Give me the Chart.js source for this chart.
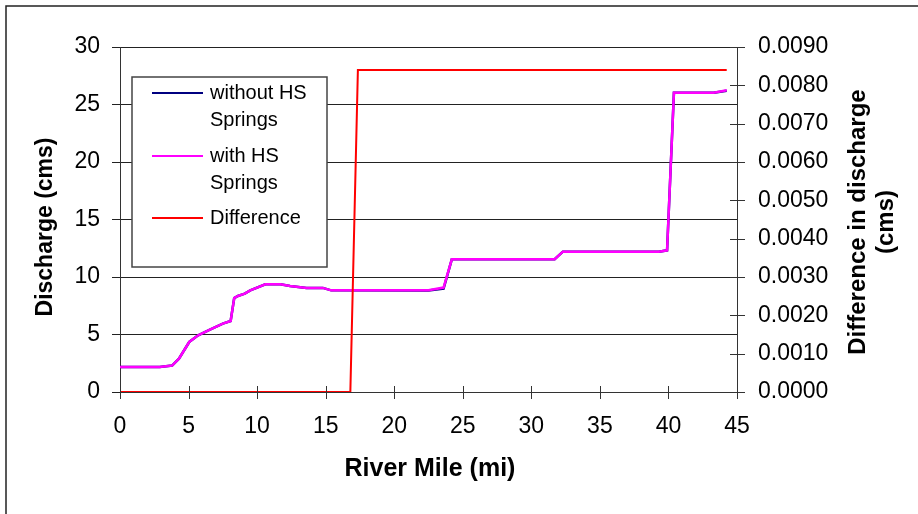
<!DOCTYPE html>
<html>
<head>
<meta charset="utf-8">
<script src="https://cdn.jsdelivr.net/npm/chart.js@4.4.0/dist/chart.umd.min.js"></script>
<style>
  body { margin: 0; background: #fff; }
  #wrap { width: 918px; height: 514px; }
</style>
</head>
<body>
<div id="wrap"><canvas id="dischargeChart" width="918" height="514"></canvas></div>
<script>
// river mile vs discharge
const riverMile = [0, 2.9, 3.8, 4.3, 5.05, 5.7, 6.56, 7.5, 8.07, 8.33, 8.6, 9.1, 9.5, 10.6, 11.7, 12.4, 13.6, 14.8, 15.4, 22.5, 23.6, 24.2, 31.7, 32.3, 39.3, 39.9, 40.4, 43.3, 44.25];
const withoutSprings = [2.17, 2.17, 2.3, 2.9, 4.35, 4.93, 5.42, 5.95, 6.17, 8.17, 8.35, 8.55, 8.84, 9.37, 9.37, 9.22, 9.05, 9.05, 8.84, 8.82, 9.0, 11.54, 11.54, 12.2, 12.2, 12.32, 26.03, 26.03, 26.2];
const withSprings = [2.17, 2.17, 2.3, 2.9, 4.35, 4.93, 5.42, 5.95, 6.17, 8.17, 8.35, 8.55, 8.84, 9.37, 9.37, 9.22, 9.05, 9.05, 8.84, 8.84, 9.08, 11.54, 11.54, 12.2, 12.2, 12.32, 26.03, 26.03, 26.23];

// difference series on right axis
const diffMile = [0, 16.8, 17.35, 44.25];
const diffValues = [0, 0, 0.0084, 0.0084];

const xTicks = [0, 5, 10, 15, 20, 25, 30, 35, 40, 45];
const legendNames = [['without HS', 'Springs'], ['with HS', 'Springs'], ['Difference']];

const FONT = "'Liberation Sans', Arial, sans-serif";

function toPoints(xs, ys) {
    return xs.map((x, i) => ({ x: x, y: ys[i] }));
}

// border, titles, crossing tick marks, boxed legend
const decorPlugin = {
    id: 'decor',
    afterDraw(chart) {
        const ctx = chart.ctx;
        const x = chart.scales.x, y2 = chart.scales.y2;
        const area = chart.chartArea;
        ctx.save();

        // outer frame
        ctx.strokeStyle = '#222';
        ctx.lineWidth = 1.5;
        ctx.beginPath();
        ctx.moveTo(6, 514);
        ctx.lineTo(6, 6);
        ctx.lineTo(918, 6);
        ctx.stroke();

        // tick marks crossing the x axis and right axis
        ctx.strokeStyle = '#333';
        ctx.lineWidth = 1;
        ctx.beginPath();
        xTicks.forEach(v => {
            const px = Math.round(x.getPixelForValue(v)) + 0.5;
            ctx.moveTo(px, area.bottom - 6);
            ctx.lineTo(px, area.bottom + 7);
        });
        for (let i = 0; i <= 9; i++) {
            const py = Math.round(y2.getPixelForValue(i * 0.001)) + 0.5;
            ctx.moveTo(area.right - 7, py);
            ctx.lineTo(area.right + 8, py);
        }
        ctx.stroke();

        // axis titles
        ctx.fillStyle = '#000';
        ctx.textAlign = 'center';
        ctx.textBaseline = 'middle';
        ctx.font = 'bold 25px ' + FONT;
        ctx.fillText('River Mile (mi)', 430, 469);

        ctx.font = 'bold 23px ' + FONT;
        ctx.save();
        ctx.translate(46, 227);
        ctx.rotate(-Math.PI / 2);
        ctx.fillText('Discharge (cms)', 0, 0);
        ctx.restore();

        ctx.font = 'bold 24px ' + FONT;
        ctx.save();
        ctx.translate(858, 222);
        ctx.rotate(-Math.PI / 2);
        ctx.fillText('Difference in discharge', 0, 0);
        ctx.fillText('(cms)', 0, 28);
        ctx.restore();

        // legend box
        ctx.fillStyle = '#fff';
        ctx.fillRect(132, 77, 195, 190);
        ctx.strokeStyle = '#444';
        ctx.lineWidth = 1.5;
        ctx.strokeRect(132, 77, 195, 190);

        const rows = [93, 156, 218];
        ctx.font = '20px ' + FONT;
        ctx.textAlign = 'left';
        chart.data.datasets.forEach((ds, i) => {
            ctx.strokeStyle = ds.borderColor;
            ctx.lineWidth = 2;
            ctx.beginPath();
            ctx.moveTo(152, rows[i]);
            ctx.lineTo(203, rows[i]);
            ctx.stroke();
            ctx.fillStyle = '#000';
            legendNames[i].forEach((line, j) => {
                ctx.fillText(line, 210, rows[i] + j * 27);
            });
        });
        ctx.restore();
    }
};

const ctx = document.getElementById('dischargeChart').getContext('2d');
new Chart(ctx, {
    type: 'line',
    data: {
        datasets: [
            {
                label: 'without HS Springs',
                data: toPoints(riverMile, withoutSprings),
                borderColor: '#000080',
                borderWidth: 2.5,
                order: 2,
                yAxisID: 'y'
            },
            {
                label: 'with HS Springs',
                data: toPoints(riverMile, withSprings),
                borderColor: '#FF00FF',
                borderWidth: 2.5,
                order: 1,
                yAxisID: 'y'
            },
            {
                label: 'Difference',
                data: toPoints(diffMile, diffValues),
                borderColor: '#FF0000',
                borderWidth: 2,
                order: 0,
                yAxisID: 'y2'
            }
        ]
    },
    options: {
        responsive: false,
        animation: false,
        elements: {
            point: { radius: 0 },
            line: { tension: 0 }
        },
        layout: { padding: { top: 47, left: 0, right: 0, bottom: 0 } },
        plugins: {
            legend: { display: false },
            tooltip: { enabled: false }
        },
        scales: {
            x: {
                type: 'linear',
                min: 0,
                max: 45,
                afterBuildTicks: s => { s.ticks = xTicks.map(v => ({ value: v })); },
                afterFit: s => { s.height = 122; },
                grid: { display: false },
                border: { display: true, color: '#333', width: 1 },
                ticks: {
                    color: '#000',
                    font: { family: FONT, size: 23 },
                    padding: 13,
                    maxRotation: 0
                }
            },
            y: {
                position: 'left',
                min: 0,
                max: 30,
                afterFit: s => { s.width = 120; },
                grid: { color: '#222', lineWidth: 1, drawTicks: true, tickLength: 8 },
                border: { display: true, color: '#333', width: 1 },
                ticks: {
                    stepSize: 5,
                    color: '#000',
                    font: { family: FONT, size: 23 },
                    padding: 12
                }
            },
            y2: {
                position: 'right',
                min: 0,
                max: 0.009,
                afterFit: s => { s.width = 181; },
                grid: { drawOnChartArea: false, drawTicks: false },
                border: { display: true, color: '#333', width: 1 },
                ticks: {
                    stepSize: 0.001,
                    color: '#000',
                    font: { family: FONT, size: 23 },
                    padding: 21,
                    callback: v => v.toFixed(4)
                }
            }
        }
    },
    plugins: [decorPlugin]
});
</script>
</body>
</html>
